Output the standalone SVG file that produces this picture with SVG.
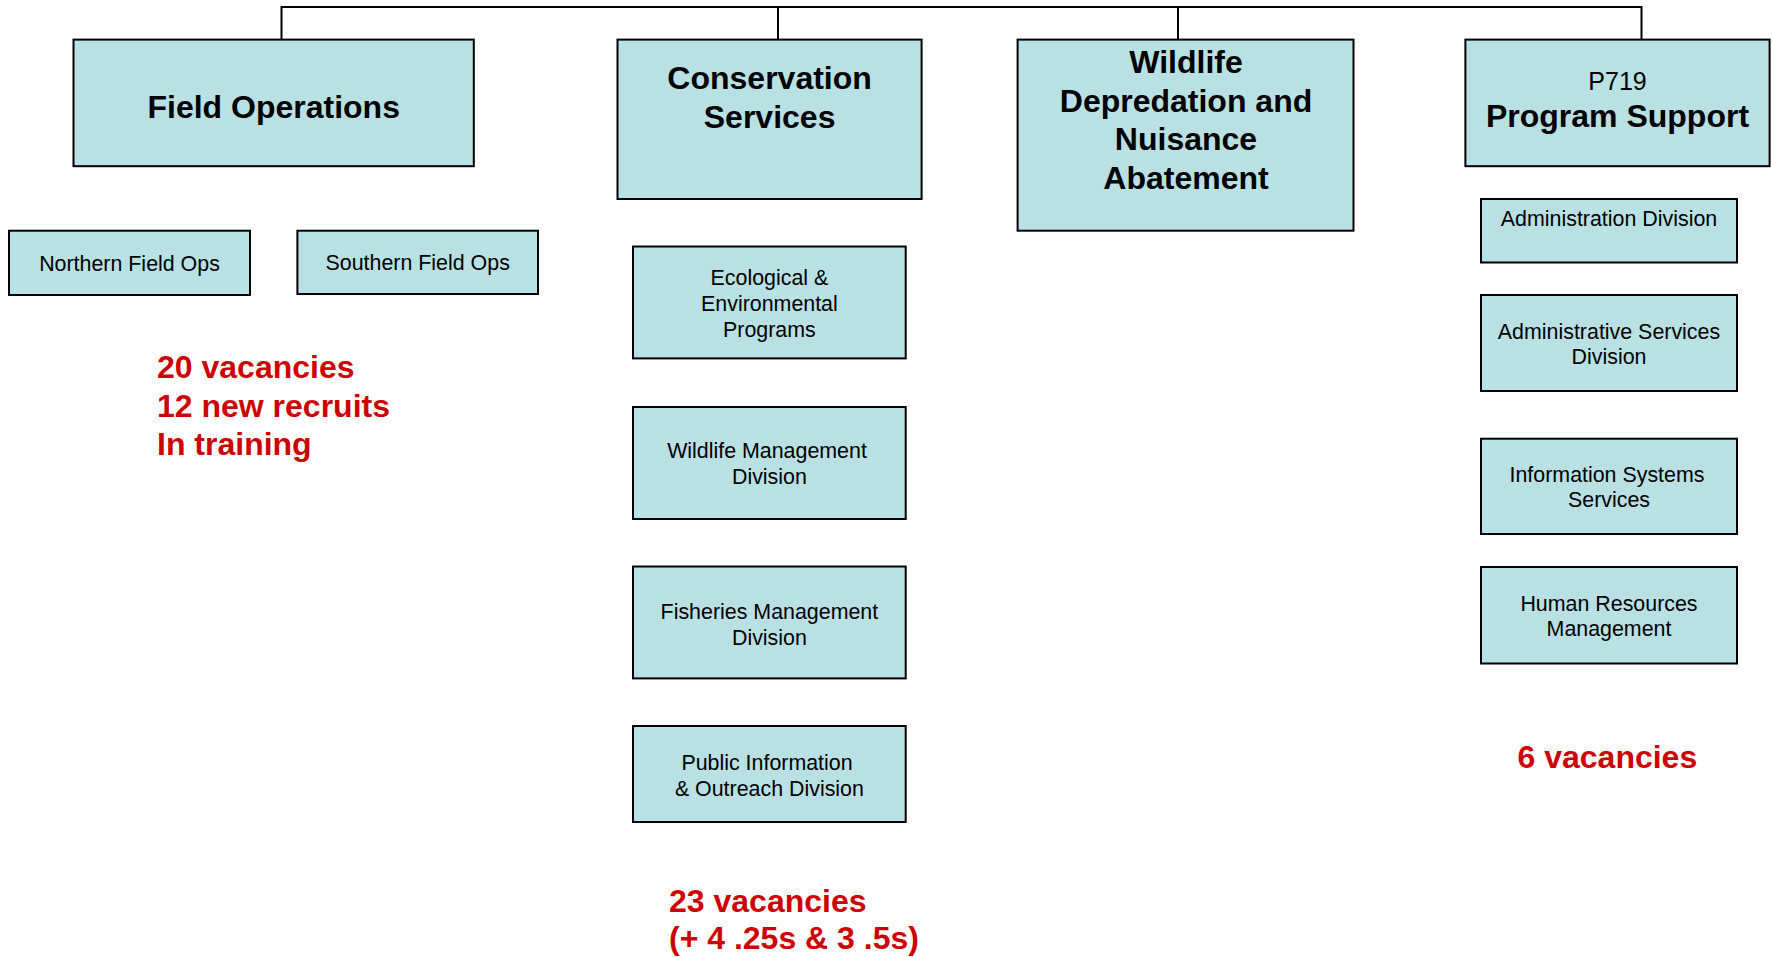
<svg xmlns="http://www.w3.org/2000/svg" width="1773" height="957" viewBox="0 0 1773 957">
<style>
.box{fill:#b9e0e3;stroke:#000;stroke-width:2}
.big{font-family:"Liberation Sans",Arial,sans-serif;font-weight:bold;font-size:32px;fill:#000;text-anchor:middle}
.mid{font-family:"Liberation Sans",Arial,sans-serif;font-size:25px;fill:#000;text-anchor:middle}
.sm{font-family:"Liberation Sans",Arial,sans-serif;font-size:21.4px;fill:#000;text-anchor:middle}
.red{font-family:"Liberation Sans",Arial,sans-serif;font-weight:bold;font-size:32px;fill:#cc0000}
.conn{fill:none;stroke:#000;stroke-width:2}
</style>
<rect width="1773" height="957" fill="#fff"/>
<g id="connectors">
<path class="conn" d="M281.5 39.6V7H1641.5V39.6"/>
<path class="conn" d="M778 7V39.6"/>
<path class="conn" d="M1178 7V39.6"/>
</g>
<g id="field-operations">
<rect class="box" x="73.5" y="39.6" width="400.3" height="126.6"/>
<text class="big" x="273.7" y="118">Field Operations</text>
</g>
<g id="northern-field-ops">
<rect class="box" x="9" y="230.7" width="241" height="64.3"/>
<text class="sm" x="129.5" y="270.5">Northern Field Ops</text>
</g>
<g id="southern-field-ops">
<rect class="box" x="297.4" y="230.7" width="240.6" height="63.3"/>
<text class="sm" x="417.7" y="270">Southern Field Ops</text>
</g>
<g id="field-ops-note">
<text class="red" x="157" y="378">20 vacancies</text>
<text class="red" x="157" y="416.5">12 new recruits</text>
<text class="red" x="157" y="455">In training</text>
</g>
<g id="conservation-services">
<rect class="box" x="617.5" y="39.6" width="304.1" height="159.4"/>
<text class="big" x="769.6" y="89">Conservation</text>
<text class="big" x="769.6" y="128">Services</text>
</g>
<g id="ecological-environmental">
<rect class="box" x="633" y="246.5" width="272.7" height="111.9"/>
<text class="sm" x="769.4" y="285">Ecological &amp;</text>
<text class="sm" x="769.4" y="311">Environmental</text>
<text class="sm" x="769.4" y="337">Programs</text>
</g>
<g id="wildlife-management">
<rect class="box" x="633" y="407" width="272.7" height="112"/>
<text class="sm" x="767" y="458">Wildlife Management</text>
<text class="sm" x="769.4" y="484">Division</text>
</g>
<g id="fisheries-management">
<rect class="box" x="633" y="566.5" width="272.7" height="111.9"/>
<text class="sm" x="769.4" y="618.5">Fisheries Management</text>
<text class="sm" x="769.4" y="644.5">Division</text>
</g>
<g id="public-information">
<rect class="box" x="633" y="726" width="272.7" height="96"/>
<text class="sm" x="767" y="770">Public Information</text>
<text class="sm" x="769.4" y="796">&amp; Outreach Division</text>
</g>
<g id="conservation-note">
<text class="red" x="669" y="911.5">23 vacancies</text>
<text class="red" x="669" y="948.5">(+ 4 .25s &amp; 3 .5s)</text>
</g>
<g id="wildlife-depredation">
<rect class="box" x="1017.6" y="39.6" width="335.9" height="191.1"/>
<text class="big" x="1186" y="73">Wildlife</text>
<text class="big" x="1186" y="111.5">Depredation and</text>
<text class="big" x="1186" y="150">Nuisance</text>
<text class="big" x="1186" y="188.5">Abatement</text>
</g>
<g id="program-support">
<rect class="box" x="1465.4" y="39.6" width="304.2" height="126.6"/>
<text class="mid" x="1617.5" y="89.5">P719</text>
<text class="big" x="1617.5" y="127">Program Support</text>
</g>
<g id="administration-division">
<rect class="box" x="1481" y="199" width="256" height="63.5"/>
<text class="sm" x="1609" y="226">Administration Division</text>
</g>
<g id="administrative-services">
<rect class="box" x="1481" y="295" width="256" height="96"/>
<text class="sm" x="1609" y="339">Administrative Services</text>
<text class="sm" x="1609" y="364">Division</text>
</g>
<g id="information-systems">
<rect class="box" x="1481" y="438.7" width="256" height="95.3"/>
<text class="sm" x="1607" y="481.7">Information Systems</text>
<text class="sm" x="1609" y="506.7">Services</text>
</g>
<g id="human-resources">
<rect class="box" x="1481" y="567" width="256" height="96.5"/>
<text class="sm" x="1609" y="610.7">Human Resources</text>
<text class="sm" x="1609" y="636">Management</text>
</g>
<g id="program-support-note">
<text class="red" x="1517.5" y="767.5">6 vacancies</text>
</g>
</svg>
